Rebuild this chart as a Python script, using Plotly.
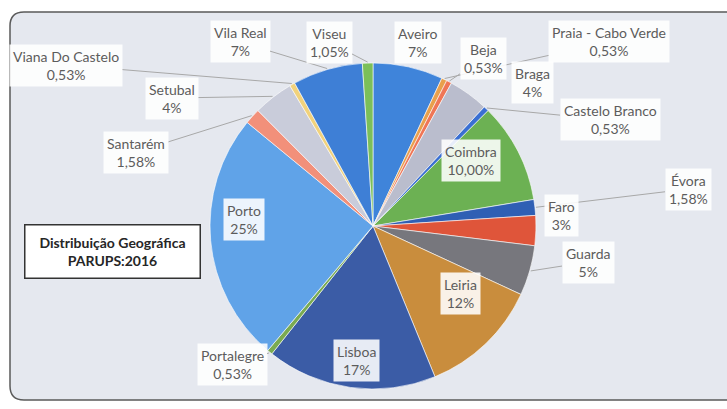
import math
import plotly.graph_objects as go

# ---- data (clockwise from 12 o'clock) ----
labels = ["Aveiro", "Praia - Cabo Verde", "Beja", "Braga", "Castelo Branco", "Coimbra",
          "Évora", "Faro", "Guarda", "Leiria", "Lisboa", "Portalegre", "Porto",
          "Santarém", "Setubal", "Viana Do Castelo", "Vila Real", "Viseu"]
values = [7, 0.53, 0.53, 4, 0.53, 10.00, 1.58, 3, 5, 12, 17, 0.53, 25, 1.58, 4, 0.53, 7, 1.05]
pct_text = ["7%", "0,53%", "0,53%", "4%", "0,53%", "10,00%", "1,58%", "3%", "5%", "12%",
            "17%", "0,53%", "25%", "1,58%", "4%", "0,53%", "7%", "1,05%"]
colors = ["#3f84da", "#e8a04c", "#ef7656", "#babdcd", "#3a6fd2", "#6cb153", "#2f5fb4",
          "#df553a", "#77777d", "#c98d3d", "#3b5ca6", "#7aab52", "#60a3e8", "#f2907a",
          "#c9ccda", "#f1d27c", "#3e7fd6", "#7bbf5a"]

# ---- layout / style ----
W, H = 727, 409
cx, cy, r = 373, 226, 163
label_pos = {
    "Aveiro": (418, 42), "Praia - Cabo Verde": (609, 42), "Beja": (483, 58),
    "Braga": (532, 82), "Castelo Branco": (610, 120), "Coimbra": (471, 160),
    "Évora": (688, 189), "Faro": (561, 215), "Guarda": (588, 262),
    "Leiria": (460, 293), "Lisboa": (356, 360), "Portalegre": (232, 364),
    "Porto": (244, 219), "Santarém": (136, 152), "Setubal": (172, 98),
    "Viana Do Castelo": (66, 65), "Vila Real": (240, 42), "Viseu": (329, 42),
}
with_leader = {"Praia - Cabo Verde", "Beja", "Castelo Branco", "Évora", "Guarda",
               "Portalegre", "Santarém", "Setubal", "Viana Do Castelo", "Viseu", "Vila Real"}
FONT = "Lato"

fig = go.Figure(go.Pie(
    labels=labels, values=values, sort=False, direction="clockwise", rotation=0,
    marker=dict(colors=colors, line=dict(color="rgba(255,255,255,0.75)", width=0.8)),
    textinfo="none", hoverinfo="label+percent", showlegend=False,
    domain=dict(x=[(cx - r) / W, (cx + r) / W], y=[(H - cy - r) / H, (H - cy + r) / H]),
))

total = sum(values)
cum = 0.0
annotations = []
for lab, v, t in zip(labels, values, pct_text):
    mid = (cum + v / 2) / total * 2 * math.pi
    cum += v
    lx, ly = label_pos[lab]
    common = dict(text=f"{lab}<br>{t}", font=dict(family=FONT, size=14, color="#5c5c5c"),
                  bgcolor="rgba(255,255,255,0.88)", borderpad=3, xref="paper", yref="paper",
                  xanchor="center", yanchor="middle")
    if lab in with_leader:
        px = cx + (r + 1) * math.sin(mid)
        py = cy - (r + 1) * math.cos(mid)
        annotations.append(dict(x=px / W, y=1 - py / H, ax=lx - px, ay=ly - py,
                                axref="pixel", ayref="pixel", showarrow=True, arrowhead=0,
                                arrowwidth=1, arrowcolor="#a8a8a8", standoff=0, **common))
    else:
        annotations.append(dict(x=lx / W, y=1 - ly / H, showarrow=False, **common))

annotations.append(dict(
    x=112 / W, y=1 - 252 / H, xref="paper", yref="paper", showarrow=False,
    xanchor="center", yanchor="middle",
    text="<b>Distribuição Geográfica<br>PARUPS:2016</b>",
    font=dict(family=FONT, size=14, color="#262626"),
    bgcolor="white", bordercolor="#333333", borderwidth=1.5, borderpad=6,
    width=162, height=40,
))

x0, y0, x1, y1, rc = 10, 12, 740, 400, 14
path = (f"M {x0+rc} {y0} L {x1} {y0} L {x1} {y1} L {x0+rc} {y1} "
        f"Q {x0} {y1} {x0} {y1-rc} L {x0} {y0+rc} Q {x0} {y0} {x0+rc} {y0} Z")
fig.update_layout(
    width=W, height=H, margin=dict(l=0, r=0, t=0, b=0),
    paper_bgcolor="white", plot_bgcolor="white",
    xaxis=dict(visible=False, range=[0, W]), yaxis=dict(visible=False, range=[H, 0]),
    shapes=[dict(type="path", path=path, xref="x", yref="y",
                 fillcolor="#e5e8ef", line=dict(color="#5a5a5a", width=1.5), layer="below")],
    annotations=annotations,
)
fig.write_html("out.html")
